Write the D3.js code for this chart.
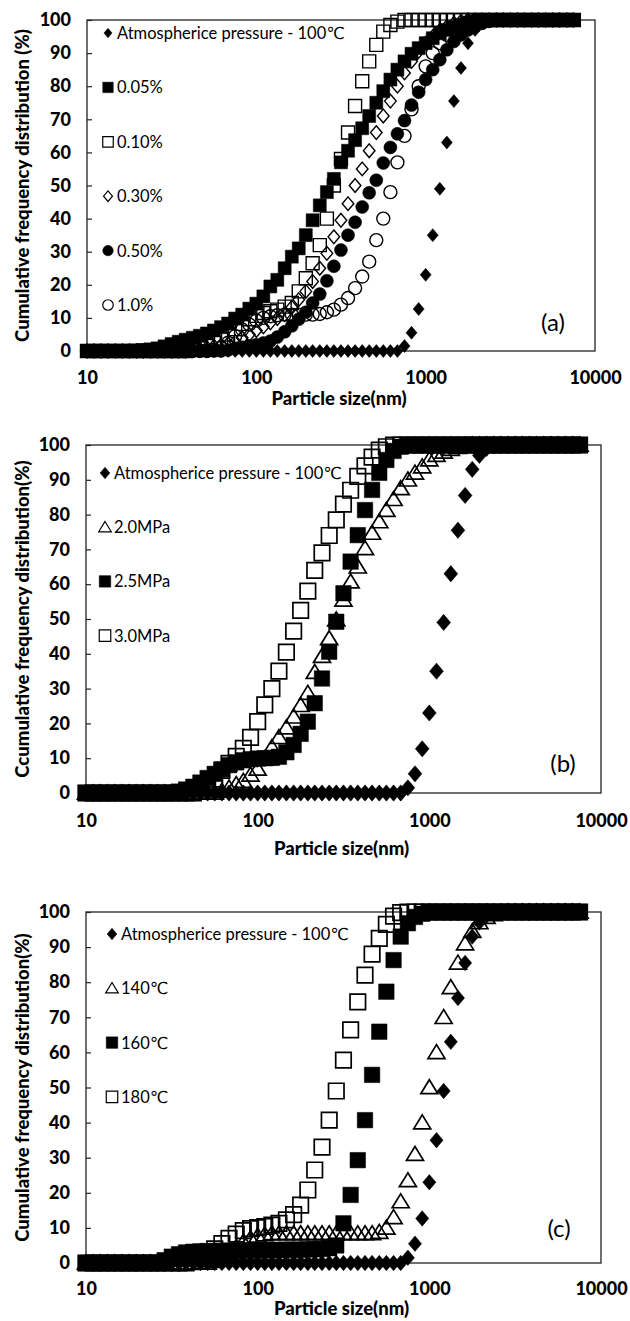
<!DOCTYPE html>
<html>
<head>
<meta charset="utf-8">
<script src="https://cdn.jsdelivr.net/npm/d3@7"></script>
<style>
  body { margin: 0; background: #fff; }
  svg { display: block; }
</style>
</head>
<body>
<svg id="chart" width="630" height="1321"></svg>
<script>
// particle size classes (nm), shared by every series
const sizes = [
  10, 11.0, 12.1, 13.3, 14.7, 16.2, 17.8, 19.6, 21.5, 23.7,
  26.1, 28.7, 31.6, 34.8, 38.3, 42.2, 46.4, 51.1, 56.2, 61.9,
  68.1, 75.0, 82.5, 90.9, 100, 110, 121, 133, 147, 162,
  178, 196, 215, 237, 261, 287, 316, 348, 383, 422,
  464, 511, 562, 619, 681, 750, 825, 909, 1000, 1101,
  1212, 1334, 1468, 1616, 1778, 1957, 2154, 2371, 2610, 2873,
  3162, 3481, 3831, 4217, 4642, 5109, 5623, 6190, 6813, 7499
]

// cumulative frequency (%) per size class
const atmospheric = [
  0, 0, 0, 0, 0, 0, 0, 0, 0, 0,
  0, 0, 0, 0, 0, 0, 0, 0, 0, 0,
  0, 0, 0, 0, 0, 0, 0, 0, 0, 0,
  0, 0, 0, 0, 0, 0, 0, 0, 0, 0,
  0, 0, 0, 0, 0, 1.5, 5.5, 12.7, 23, 35,
  49, 63, 75.5, 85.5, 93, 97, 99, 99.8, 100, 100,
  100, 100, 100, 100, 100, 100, 100, 100, 100, 100
]

const conc005 = [
  0, 0, 0, 0, 0, 0, 0, 0.1, 0.3, 0.5,
  0.8, 1.4, 2.1, 2.8, 3.4, 4, 4.6, 5.3, 6.2, 7.2,
  8.3, 9.8, 11, 12.8, 14.3, 16.5, 19.5, 21.5, 25, 28.5,
  31, 35, 39.5, 44, 48, 52, 57, 60.5, 63.7, 67.3,
  71, 75, 78.5, 82, 85, 87.5, 89.8, 91.5, 93, 94.5,
  96, 97, 97.8, 98.5, 99.2, 99.6, 100, 100, 100, 100,
  100, 100, 100, 100, 100, 100, 100, 100, 100, 100
]

const conc010 = [
  0, 0, 0, 0, 0, 0, 0, 0, 0, 0,
  0, 0, 0, 0, 0, 0.4, 0.9, 1.6, 2.5, 3.6,
  5, 6.6, 8.2, 9.6, 10.6, 11.5, 12, 12.5, 13.4, 14.5,
  18, 22, 26.5, 32, 40, 50, 58, 66, 74, 81.5,
  87.5, 92.5, 96.5, 98.5, 99.5, 100, 100, 100, 100, 100,
  100, 100, 100, 100, 100, 100, 100, 100, 100, 100,
  100, 100, 100, 100, 100, 100, 100, 100, 100, 100
]

const conc030 = [
  0, 0, 0, 0, 0, 0, 0, 0, 0, 0,
  0, 0, 0, 0, 0, 0.3, 0.6, 1, 1.4, 1.8,
  2.2, 2.8, 4, 5, 6.2, 7.3, 8.5, 9.8, 11, 13.2,
  15.5, 18, 21, 25, 29.5, 34.5, 39.5, 44.5, 50, 55,
  60.5, 66, 71, 75.5, 80, 84, 87.5, 90.5, 93, 95,
  96.8, 98, 99, 99.6, 100, 100, 100, 100, 100, 100,
  100, 100, 100, 100, 100, 100, 100, 100, 100, 100
]

const conc050 = [
  0, 0, 0, 0, 0, 0, 0, 0, 0, 0,
  0, 0, 0, 0, 0, 0, 0, 0, 0, 0,
  0.3, 0.7, 1.1, 1.5, 1.9, 2.4, 3, 4.2, 5.8, 7.6,
  9.6, 11.7, 14.5, 17.2, 21.2, 25.6, 30.5, 35, 38.9, 43.5,
  47.8, 51.6, 56.8, 61.5, 65.6, 69.6, 74.3, 78.2, 82, 85,
  88, 91, 93.5, 95.5, 97, 98, 99, 99.6, 100, 100,
  100, 100, 100, 100, 100, 100, 100, 100, 100, 100
]

const conc100 = [
  0, 0, 0, 0, 0, 0, 0, 0, 0, 0,
  0, 0, 0, 0, 0, 0, 0, 0, 0.3, 1,
  2.5, 4.5, 6.5, 8, 9.2, 10, 10.5, 10.8, 11, 11,
  11, 11, 11, 11.2, 11.7, 12.5, 14, 16, 19, 22.5,
  27, 33.5, 40, 48, 57, 65, 73, 80, 86, 90,
  93, 95.5, 97.3, 98.5, 99.3, 99.8, 100, 100, 100, 100,
  100, 100, 100, 100, 100, 100, 100, 100, 100, 100
]

const mpa20 = [
  0, 0, 0, 0, 0, 0, 0, 0, 0, 0,
  0, 0, 0, 0, 0, 0, 0, 0, 0, 0.6,
  1.5, 2.5, 3.4, 5.2, 6.9, 9.8, 13.1, 16, 18.8, 21.9,
  25.2, 28.7, 34.7, 39.3, 44.4, 49.8, 55.5, 60.7, 65, 70.3,
  74.7, 78, 81.3, 84.4, 87.5, 90, 92, 93.8, 95.8, 97.1,
  98, 98.8, 99.4, 99.8, 100, 100, 100, 100, 100, 100,
  100, 100, 100, 100, 100, 100, 100, 100, 100, 100
]

const mpa25 = [
  0, 0, 0, 0, 0, 0, 0, 0, 0, 0,
  0, 0, 0, 0.4, 1, 1.8, 3, 4.3, 5.5, 6.8,
  8, 8.8, 9.4, 9.7, 9.9, 10, 10.1, 10.4, 11.7, 13.8,
  17, 20.5, 25.8, 32.9, 40.6, 49.2, 57.4, 66.5, 74.1, 81.3,
  87.1, 92, 95.7, 98.3, 99.5, 100, 100, 100, 100, 100,
  100, 100, 100, 100, 100, 100, 100, 100, 100, 100,
  100, 100, 100, 100, 100, 100, 100, 100, 100, 100
]

const mpa30 = [
  0, 0, 0, 0, 0, 0, 0, 0, 0, 0,
  0, 0, 0, 0, 0, 0, 0.5, 2, 4, 6.5,
  8.5, 10.5, 12.8, 16, 20.5, 25.3, 30, 35, 40.5, 46.5,
  52.5, 58, 64, 69, 74, 78.5, 83, 87, 91, 94,
  96.5, 98.5, 99.5, 100, 100, 100, 100, 100, 100, 100,
  100, 100, 100, 100, 100, 100, 100, 100, 100, 100,
  100, 100, 100, 100, 100, 100, 100, 100, 100, 100
]

const temp140 = [
  0, 0, 0, 0, 0, 0, 0, 0, 0, 0,
  0, 0, 0, 0, 0, 0, 0, 0, 0.5, 1.5,
  3, 4.5, 6, 7, 7.7, 8.1, 8.4, 8.4, 8.4, 8.4,
  8.4, 8.4, 8.4, 8.4, 8.4, 8.4, 8.4, 8.4, 8.4, 8.4,
  8.4, 8.8, 10, 13, 17.5, 23.5, 31, 40, 50, 60,
  70, 78.5, 85.5, 91, 94.5, 97, 98.5, 99.3, 99.8, 100,
  100, 100, 100, 100, 100, 100, 100, 100, 100, 100
]

const temp160 = [
  0, 0, 0, 0, 0, 0, 0, 0, 0, 0,
  0, 0.8, 1.8, 2.5, 3, 3.2, 3.3, 3.4, 3.4, 3.5,
  3.5, 3.5, 3.6, 3.6, 3.6, 3.7, 3.7, 3.7, 3.8, 3.8,
  3.8, 3.9, 3.9, 4, 4.2, 5, 11.3, 19.4, 29.3, 40.7,
  53.6, 65.9, 77.3, 86.3, 93, 96.8, 98.6, 99.5, 100, 100,
  100, 100, 100, 100, 100, 100, 100, 100, 100, 100,
  100, 100, 100, 100, 100, 100, 100, 100, 100, 100
]

const temp180 = [
  0, 0, 0, 0, 0, 0, 0, 0, 0, 0,
  0, 0, 0, 0, 0, 0.4, 1.2, 2.5, 4, 5.5,
  7, 8.2, 9.2, 9.8, 10.1, 10.4, 10.8, 11.3, 12.3, 13.8,
  16.5, 20.8, 26.5, 33, 40.7, 49, 57.8, 66.4, 74.4, 82,
  88, 92.5, 96.5, 98.8, 99.8, 100, 100, 100, 100, 100,
  100, 100, 100, 100, 100, 100, 100, 100, 100, 100,
  100, 100, 100, 100, 100, 100, 100, 100, 100, 100
]

const yTicks = [0, 10, 20, 30, 40, 50, 60, 70, 80, 90, 100]
const xTicks = [10, 100, 1000, 10000]

const atmLabel = 'Atmospherice pressure - 100℃'
const concLabels = ['0.05%', '0.10%', '0.30%', '0.50%', '1.0%']
const mpaLabels = ['2.0MPa', '2.5MPa', '3.0MPa']
const tempLabels = ['140℃', '160℃', '180℃']

// marker shapes as d3 symbol types, size = extent squared
const diamond = { draw(ctx, size) { const h = Math.sqrt(size) / 2, w = h * 0.85
  ctx.moveTo(0, -h); ctx.lineTo(w, 0); ctx.lineTo(0, h); ctx.lineTo(-w, 0); ctx.closePath() } }
const square = { draw(ctx, size) { const h = Math.sqrt(size) / 2; ctx.rect(-h, -h, 2 * h, 2 * h) } }
const circle = { draw(ctx, size) { const r = Math.sqrt(size) / 2; ctx.moveTo(r, 0); ctx.arc(0, 0, r, 0, 2 * Math.PI) } }
const triangle = { draw(ctx, size) { const s = Math.sqrt(size) / 2
  ctx.moveTo(0, -s); ctx.lineTo(s * 1.1, s * 0.8); ctx.lineTo(-s * 1.1, s * 0.8); ctx.closePath() } }

const FONT = 'Lato, "DejaVu Sans", sans-serif'
const svg = d3.select('#chart')

const panels = [
  { left: 87, right: 595, top: 20, bottom: 351, mk: 13, lgMk: 10.5, open: 1.4,
    yTitle: 'Cumulative frequency distribution (%)', tag: '(a)', tagPos: [553, 331],
    legendX: 108, legendY: 33, legendStep: 54.4, xTitleY: 405, tickY: 384,
    series: [
      { values: atmospheric, label: atmLabel, type: diamond, filled: true, lg: 9.5 },
      { values: conc005, label: concLabels[0], type: square, filled: true },
      { values: conc010, label: concLabels[1], type: square, filled: false },
      { values: conc030, label: concLabels[2], type: diamond, filled: false, scale: 1.05 },
      { values: conc050, label: concLabels[3], type: circle, filled: true },
      { values: conc100, label: concLabels[4], type: circle, filled: false }
    ] },
  { left: 86, right: 601, top: 445, bottom: 793, mk: 15.5, lgMk: 11.5, open: 1.7,
    yTitle: 'Ccumulative frequency distribution(%)', tag: '(b)', tagPos: [563, 772],
    legendX: 105, legendY: 473, legendStep: 54.2, xTitleY: 855, tickY: 827,
    series: [
      { values: atmospheric, label: atmLabel, type: diamond, filled: true, scale: 1.05 },
      { values: mpa20, label: mpaLabels[0], type: triangle, filled: false },
      { values: mpa25, label: mpaLabels[1], type: square, filled: true },
      { values: mpa30, label: mpaLabels[2], type: square, filled: false }
    ] },
  { left: 86, right: 601, top: 912, bottom: 1263, mk: 15.5, lgMk: 11.5, open: 1.7,
    yTitle: 'Cumulative frequency distribution(%)', tag: '(c)', tagPos: [559, 1237],
    legendX: 112, legendY: 934, legendStep: 54.3, xTitleY: 1315, tickY: 1295,
    series: [
      { values: atmospheric, label: atmLabel, type: diamond, filled: true },
      { values: temp140, label: tempLabels[0], type: triangle, filled: false },
      { values: temp160, label: tempLabels[1], type: square, filled: true },
      { values: temp180, label: tempLabels[2], type: square, filled: false }
    ] }
]

function styleMarker(sel, s, open) {
  if (s.filled) sel.attr('fill', '#000').attr('stroke', '#000').attr('stroke-width', 0.5)
  else sel.attr('fill', 'none').attr('stroke', '#000').attr('stroke-width', open)
}

function drawPanel(p) {
  const x = d3.scaleLog().domain([10, 10000]).range([p.left, p.right])
  const y = d3.scaleLinear().domain([0, 100]).range([p.bottom, p.top])
  const g = svg.append('g')

  g.append('rect')
    .attr('x', p.left).attr('y', p.top)
    .attr('width', p.right - p.left).attr('height', p.bottom - p.top)
    .attr('fill', 'none').attr('stroke', '#222').attr('stroke-width', 1.3)

  const yAxis = g.append('g')
    .attr('transform', `translate(${p.left},0)`)
    .call(d3.axisLeft(y).tickValues(yTicks).tickSizeInner(-5).tickSizeOuter(0).tickPadding(16))
  yAxis.select('.domain').remove()
  yAxis.selectAll('line').attr('stroke', '#222').attr('stroke-width', 1.2)
  yAxis.selectAll('text').attr('font-family', FONT).attr('font-size', 18)
    .attr('font-weight', 900).attr('fill', '#000')

  const xAxis = g.append('g')
    .attr('transform', `translate(0,${p.bottom})`)
    .call(d3.axisBottom(x).tickValues(xTicks).tickFormat(d3.format('d')).tickSizeInner(0).tickSizeOuter(0))
  xAxis.select('.domain').remove()
  xAxis.selectAll('text').attr('y', p.tickY - p.bottom).attr('dy', null)
    .attr('font-family', FONT).attr('font-size', 18).attr('font-weight', 900).attr('fill', '#000')

  p.series.forEach(s => {
    const m = p.mk * (s.scale || 1)
    const sym = d3.symbol(s.type, m * m)
    const pts = g.append('g').selectAll('path')
      .data(sizes.map((d, i) => ({ size: d, value: s.values[i] })))
      .join('path')
      .attr('transform', d => `translate(${x(d.size)},${y(d.value)})`)
      .attr('d', sym)
    styleMarker(pts, s, p.open)
  })

  // legend
  p.series.forEach((s, i) => {
    const ly = p.legendY + i * p.legendStep
    const m = s.lg || p.lgMk
    const mk = g.append('path')
      .attr('transform', `translate(${p.legendX},${ly})`)
      .attr('d', d3.symbol(s.type, m * m))
    styleMarker(mk, s, 1.2)
    g.append('text')
      .attr('x', p.legendX + 9).attr('y', ly + 6)
      .attr('font-family', FONT).attr('font-size', 16.5)
      .text(s.label)
  })

  g.append('text')
    .attr('x', p.tagPos[0]).attr('y', p.tagPos[1])
    .attr('text-anchor', 'middle').attr('font-family', FONT).attr('font-size', 24)
    .text(p.tag)

  g.append('text')
    .attr('x', (p.left + p.right) / 2 - 2).attr('y', p.xTitleY)
    .attr('text-anchor', 'middle').attr('font-family', FONT).attr('font-size', 18.5)
    .attr('font-weight', 900)
    .text('Particle size(nm)')

  g.append('text')
    .attr('transform', `translate(29,${(p.top + p.bottom) / 2}) rotate(-90)`)
    .attr('text-anchor', 'middle').attr('font-family', FONT).attr('font-size', 18.5)
    .attr('font-weight', 900)
    .text(p.yTitle)
}

panels.forEach(drawPanel)
</script>
</body>
</html>
